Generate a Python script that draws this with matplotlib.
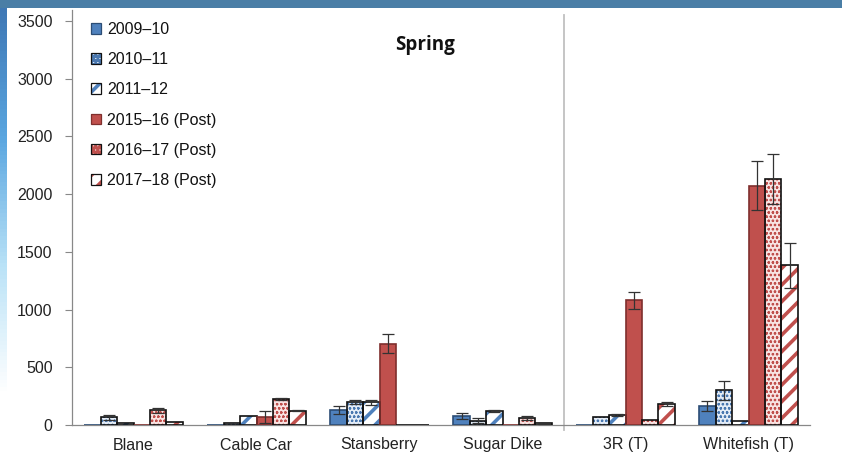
import matplotlib
matplotlib.use('Agg')
from matplotlib import pyplot as plt
from matplotlib.patches import Patch, Rectangle
from matplotlib.legend_handler import HandlerTuple
import numpy as np

# данные
sites = ['Blane', 'Cable Car', 'Stansberry', 'Sugar Dike', '3R (T)', 'Whitefish (T)']
seasons = ['2009\u201310', '2010\u201311', '2011\u201312',
           '2015\u201316 (Post)', '2016\u201317 (Post)', '2017\u201318 (Post)']

v_2009 = [0, 0, 130, 80, 0, 165]
v_2010 = [65, 15, 200, 38, 70, 300]
v_2011 = [20, 75, 195, 118, 90, 38]
v_2015 = [0, 70, 705, 0, 1080, 2075]
v_2016 = [128, 225, 0, 60, 45, 2130]
v_2017 = [22, 125, 0, 15, 180, 1385]

e_2009 = [0, 0, 38, 28, 0, 45]
e_2010 = [25, 0, 15, 20, 0, 85]
e_2011 = [0, 0, 20, 8, 8, 0]
e_2015 = [0, 50, 80, 0, 75, 215]
e_2016 = [20, 8, 0, 18, 0, 215]
e_2017 = [0, 5, 0, 5, 15, 195]

values = [v_2009, v_2010, v_2011, v_2015, v_2016, v_2017]
errors = [e_2009, e_2010, e_2011, e_2015, e_2016, e_2017]

blue = '#4F81BD'
red = '#C0504D'
# (заливка, цвет штриховки, штриховка, толщина штриховки, цвет рамки)
styles = [(blue, blue, '', 1.0, '#2c4d75'),
          ('#e4ecf6', '#4a78b0', 'oooo', 0.6, '#111111'),
          ('white', blue, '//', 2.6, '#111111'),
          (red, red, '', 1.0, '#7f2f2d'),
          ('#f8e4e3', '#c0504d', 'oooo', 0.6, '#111111'),
          ('white', red, '//', 2.6, '#111111')]

plt.rcParams['font.family'] = ['Liberation Sans', 'DejaVu Sans']

fig = plt.figure(figsize=(8.42, 4.55), dpi=100)

# синяя рамка слайда
fig.patches.append(Rectangle((0, 1 - 8 / 455), 1, 8 / 455, transform=fig.transFigure,
                             facecolor='#4a7ea6', edgecolor='none', zorder=0))
grad_ax = fig.add_axes([0, 60 / 455, 7 / 842, 387 / 455])
grad_ax.imshow(np.linspace(0, 1, 100).reshape(-1, 1), aspect='auto',
               cmap=matplotlib.colors.LinearSegmentedColormap.from_list(
                   'side', ['#3f78b5', '#5aa6e0', '#b9e2f7', '#ffffff']))
grad_ax.axis('off')

ax = fig.add_axes([72 / 842, 30 / 455, 738 / 842, 415.5 / 455])

x = np.arange(len(sites))
n = len(values)
width = 0.8 / n
handles = []
for i in range(n):
    face, hcol, hatch, hlw, edge = styles[i]
    plt.rcParams['hatch.linewidth'] = hlw  # толщина штриховки берётся при создании
    pos = x - 0.4 + width * (i + 0.5)
    ax.bar(pos, values[i], width, color=face, edgecolor=hcol, hatch=hatch, linewidth=0, zorder=2)
    ax.bar(pos, values[i], width, fill=False, edgecolor=edge, linewidth=1.2, zorder=3)
    err = np.array(errors[i])
    mask = err > 0
    ax.errorbar(pos[mask], np.array(values[i])[mask], yerr=err[mask], fmt='none',
                ecolor='#333333', elinewidth=0.9, capsize=4, capthick=0.9, zorder=4)
    handles.append((Patch(facecolor=face, edgecolor=hcol, hatch=hatch, linewidth=0),
                    Patch(fill=False, edgecolor=edge, linewidth=0.9)))

ax.set_xlim(-0.5, 5.5)
ax.set_ylim(0, 3600)
ax.set_yticks(range(0, 3501, 500))
ax.set_xticks(x)
ax.set_xticklabels(sites, fontsize=11.5, color='#222222')
ax.tick_params(axis='x', length=0, pad=9)
ax.tick_params(axis='y', length=5, width=0.8, color='#888888', pad=9, labelsize=11.5,
               labelcolor='#222222')
for side in ['top', 'right']:
    ax.spines[side].set_visible(False)
for side in ['left', 'bottom']:
    ax.spines[side].set_color('#888888')
    ax.spines[side].set_linewidth(0.9)

# разделитель контрольных участков
ax.axvline(3.5, ymin=-0.012, ymax=0.987, color='#c0c0c0', linewidth=1.3, clip_on=False, zorder=1)

ax.text(0.478, 0.915, 'Spring', transform=ax.transAxes, ha='center', va='center',
        fontsize=13.5, fontweight='bold', family='Open Sans', color='#111111')

leg = ax.legend(handles, seasons, handler_map={tuple: HandlerTuple(ndivide=1, pad=0)},
                loc='upper left', bbox_to_anchor=(91 / 842, 1 - 22 / 455),
                bbox_transform=fig.transFigure, frameon=False, fontsize=11.5,
                handlelength=0.65, handleheight=0.65, handletextpad=0.35,
                labelspacing=0.95, borderpad=0, borderaxespad=0)
for t in leg.get_texts():
    t.set_color('#111111')

fig.savefig('out.png', dpi=100)
